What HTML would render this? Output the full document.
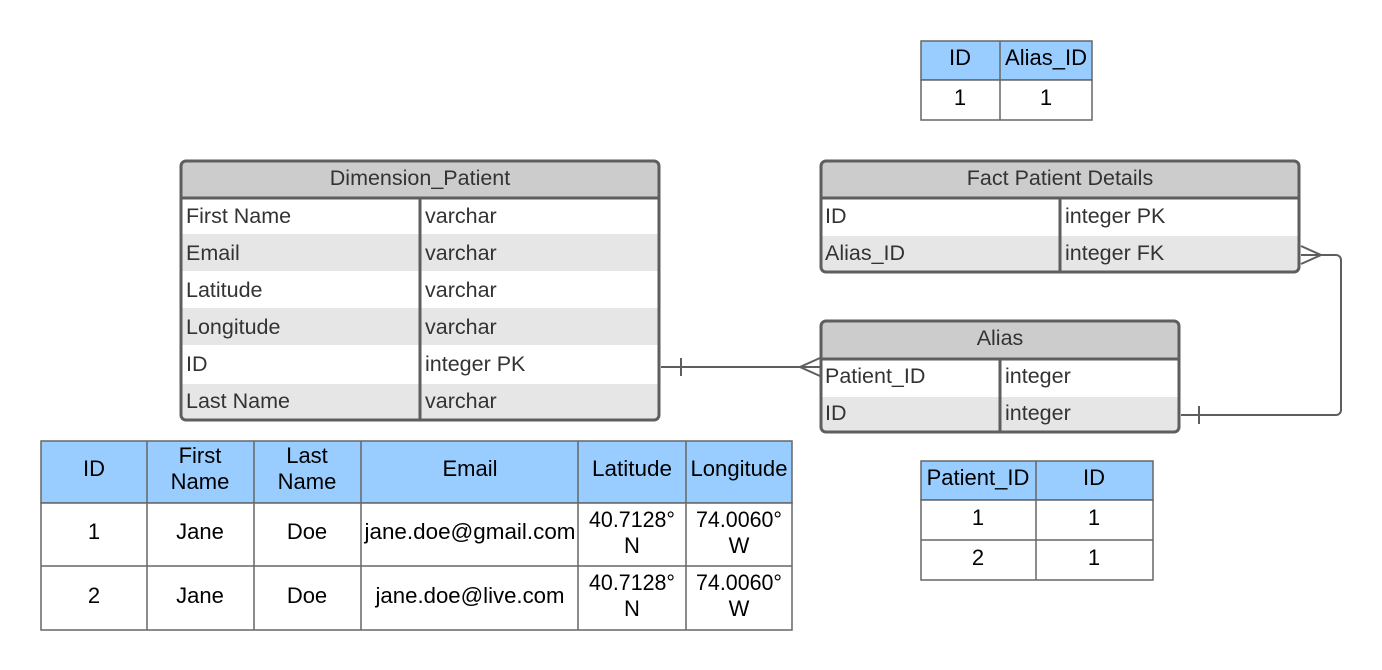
<!DOCTYPE html>
<html><head><meta charset="utf-8"><style>
html,body{margin:0;padding:0;background:#fff}
svg{display:block}
text{font-family:"Liberation Sans",sans-serif;font-size:21.5px}
.h{fill:#333;text-anchor:middle}
.f{fill:#333}
.d{fill:#000;text-anchor:middle;font-size:22px}
</style></head><body>
<svg width="1382" height="670" viewBox="0 0 1382 670" xmlns="http://www.w3.org/2000/svg">
<g>
<rect x="181" y="161" width="478" height="259" rx="5" fill="#fff"/>
<rect x="181" y="234" width="478" height="37" fill="#e6e6e6"/>
<rect x="181" y="308" width="478" height="37" fill="#e6e6e6"/>
<rect x="181" y="384" width="478" height="36" fill="#e6e6e6"/>
<path d="M181,197 V166 a5,5 0 0 1 5,-5 H654 a5,5 0 0 1 5,5 V197 Z" fill="#ccc"/>
<line x1="181" y1="198" x2="659" y2="198" stroke="#5e5e5e" stroke-width="3"/>
<line x1="420" y1="198" x2="420" y2="420" stroke="#5e5e5e" stroke-width="3"/>
<rect x="181" y="161" width="478" height="259" rx="5" fill="none" stroke="#5e5e5e" stroke-width="3"/>
<text class="h" x="420" y="185">Dimension_Patient</text>
<text class="f" x="186" y="223">First Name</text><text class="f" x="425" y="223">varchar</text>
<text class="f" x="186" y="260">Email</text><text class="f" x="425" y="260">varchar</text>
<text class="f" x="186" y="297">Latitude</text><text class="f" x="425" y="297">varchar</text>
<text class="f" x="186" y="334">Longitude</text><text class="f" x="425" y="334">varchar</text>
<text class="f" x="186" y="371">ID</text><text class="f" x="425" y="371">integer PK</text>
<text class="f" x="186" y="408">Last Name</text><text class="f" x="425" y="408">varchar</text>
</g>
<g>
<rect x="821" y="161" width="478" height="111" rx="5" fill="#fff"/>
<rect x="821" y="236" width="478" height="36" fill="#e6e6e6"/>
<path d="M821,197 V166 a5,5 0 0 1 5,-5 H1294 a5,5 0 0 1 5,5 V197 Z" fill="#ccc"/>
<line x1="821" y1="198" x2="1299" y2="198" stroke="#5e5e5e" stroke-width="3"/>
<line x1="1060" y1="198" x2="1060" y2="272" stroke="#5e5e5e" stroke-width="3"/>
<rect x="821" y="161" width="478" height="111" rx="5" fill="none" stroke="#5e5e5e" stroke-width="3"/>
<text class="h" x="1060" y="185">Fact Patient Details</text>
<text class="f" x="825" y="223">ID</text><text class="f" x="1065" y="223">integer PK</text>
<text class="f" x="825" y="260">Alias_ID</text><text class="f" x="1065" y="260">integer FK</text>
</g>
<g>
<rect x="821" y="321" width="358" height="111" rx="5" fill="#fff"/>
<rect x="821" y="397" width="358" height="35" fill="#e6e6e6"/>
<path d="M821,358 V326 a5,5 0 0 1 5,-5 H1174 a5,5 0 0 1 5,5 V358 Z" fill="#ccc"/>
<line x1="821" y1="359" x2="1179" y2="359" stroke="#5e5e5e" stroke-width="3"/>
<line x1="1000" y1="359" x2="1000" y2="432" stroke="#5e5e5e" stroke-width="3"/>
<rect x="821" y="321" width="358" height="111" rx="5" fill="none" stroke="#5e5e5e" stroke-width="3"/>
<text class="h" x="1000" y="345">Alias</text>
<text class="f" x="825" y="383">Patient_ID</text><text class="f" x="1005" y="383">integer</text>
<text class="f" x="825" y="420">ID</text><text class="f" x="1005" y="420">integer</text>
</g>
<g stroke="#5e5e5e" stroke-width="2" fill="none">
<line x1="661" y1="367" x2="820" y2="367"/>
<line x1="681" y1="358" x2="681" y2="376"/>
<polyline points="820,358 800,367 820,376"/>
<path d="M1181,415 H1336 a5,5 0 0 0 5,-5 V260 a5,5 0 0 0 -5,-5 H1301"/>
<line x1="1199" y1="406" x2="1199" y2="424"/>
<polyline points="1301,246 1321,255 1301,264"/>
</g>
<g stroke="#666" stroke-width="1.5">
<rect x="921" y="41" width="171" height="39" fill="#99ccff"/>
<rect x="921" y="80" width="171" height="40" fill="#fff"/>
<line x1="1000" y1="41" x2="1000" y2="120"/>
</g>
<text class="d" x="960" y="65">ID</text><text class="d" x="1046" y="65">Alias_ID</text>
<text class="d" x="960" y="105">1</text><text class="d" x="1046" y="105">1</text>
<g stroke="#666" stroke-width="1.5">
<rect x="921" y="461" width="232" height="39" fill="#99ccff"/>
<rect x="921" y="500" width="232" height="80" fill="#fff"/>
<line x1="921" y1="540" x2="1153" y2="540"/>
<line x1="1036" y1="461" x2="1036" y2="580"/>
</g>
<text class="d" x="978" y="485">Patient_ID</text><text class="d" x="1094" y="485">ID</text>
<text class="d" x="978" y="525">1</text><text class="d" x="1094" y="525">1</text>
<text class="d" x="978" y="565">2</text><text class="d" x="1094" y="565">1</text>
<g stroke="#666" stroke-width="1.5">
<rect x="41" y="441" width="751" height="62" fill="#99ccff"/>
<rect x="41" y="503" width="751" height="127" fill="#fff"/>
<line x1="41" y1="566" x2="792" y2="566"/>
<line x1="147" y1="441" x2="147" y2="630"/>
<line x1="254" y1="441" x2="254" y2="630"/>
<line x1="361" y1="441" x2="361" y2="630"/>
<line x1="578" y1="441" x2="578" y2="630"/>
<line x1="686" y1="441" x2="686" y2="630"/>
</g>
<text class="d" x="94" y="476">ID</text>
<text class="d" x="200" y="463">First</text><text class="d" x="200" y="489">Name</text>
<text class="d" x="307" y="463">Last</text><text class="d" x="307" y="489">Name</text>
<text class="d" x="470" y="476">Email</text>
<text class="d" x="632" y="476" textLength="80" lengthAdjust="spacingAndGlyphs">Latitude</text>
<text class="d" x="739" y="476" textLength="97" lengthAdjust="spacingAndGlyphs">Longitude</text>
<text class="d" x="94" y="539">1</text>
<text class="d" x="200" y="539">Jane</text>
<text class="d" x="307" y="539">Doe</text>
<text class="d" x="470" y="539" textLength="211" lengthAdjust="spacingAndGlyphs">jane.doe@gmail.com</text>
<text class="d" x="632" y="527" textLength="86" lengthAdjust="spacingAndGlyphs">40.7128°</text><text class="d" x="632" y="553">N</text>
<text class="d" x="739" y="527" textLength="86" lengthAdjust="spacingAndGlyphs">74.0060°</text><text class="d" x="739" y="553">W</text>
<text class="d" x="94" y="603">2</text>
<text class="d" x="200" y="603">Jane</text>
<text class="d" x="307" y="603">Doe</text>
<text class="d" x="470" y="603" textLength="189" lengthAdjust="spacingAndGlyphs">jane.doe@live.com</text>
<text class="d" x="632" y="590" textLength="86" lengthAdjust="spacingAndGlyphs">40.7128°</text><text class="d" x="632" y="616">N</text>
<text class="d" x="739" y="590" textLength="86" lengthAdjust="spacingAndGlyphs">74.0060°</text><text class="d" x="739" y="616">W</text>
</svg>
</body></html>
